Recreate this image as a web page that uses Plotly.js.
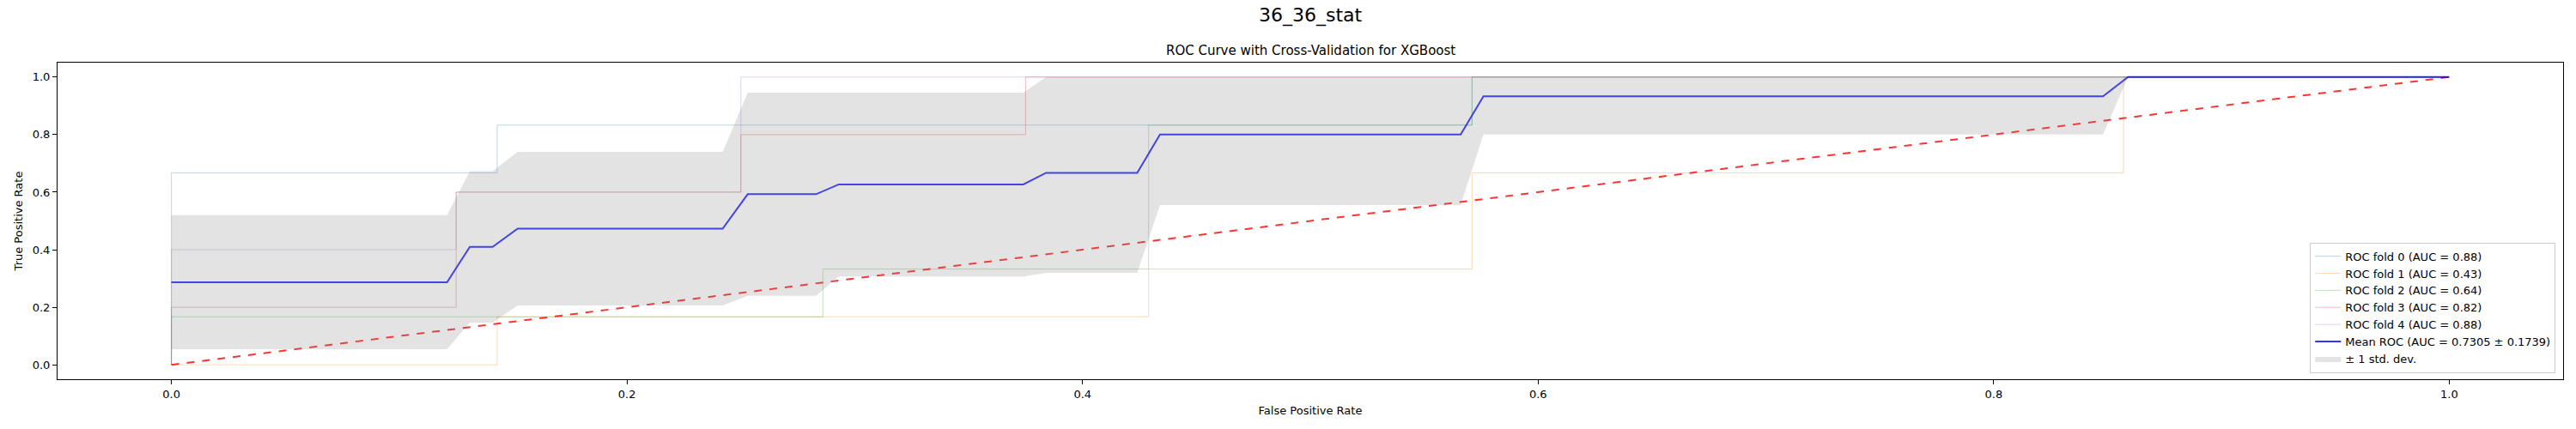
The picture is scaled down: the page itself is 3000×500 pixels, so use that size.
<!DOCTYPE html>
<html>
<head>
<meta charset="utf-8">
<script src="https://cdn.plot.ly/plotly-3.0.1.min.js"></script>
<style>body{margin:0}#myDiv{width:3000px;height:500px}</style>
</head>
<body>
<div id="myDiv"></div>
<script>
// fold ROC step points (fpr, tpr)
var fold0X = [0, 0, 0.143, 0.143, 0.571, 0.571, 1];
var fold0Y = [0, 0.667, 0.667, 0.833, 0.833, 1, 1];
var fold1X = [0, 0.143, 0.143, 0.429, 0.429, 0.571, 0.571, 0.857, 0.857, 1];
var fold1Y = [0, 0, 0.167, 0.167, 0.333, 0.333, 0.667, 0.667, 1, 1];
var fold2X = [0, 0, 0.286, 0.286, 0.429, 0.429, 0.571, 0.571, 1];
var fold2Y = [0, 0.167, 0.167, 0.333, 0.333, 0.833, 0.833, 1, 1];
var fold3X = [0, 0, 0.125, 0.125, 0.25, 0.25, 0.375, 0.375, 1];
var fold3Y = [0, 0.2, 0.2, 0.6, 0.6, 0.8, 0.8, 1, 1];
var fold4X = [0, 0, 0.125, 0.125, 0.25, 0.25, 1];
var fold4Y = [0, 0.4, 0.4, 0.6, 0.6, 1, 1];
var foldAuc = ['0.88', '0.43', '0.64', '0.82', '0.88'];

// mean ROC and std band
var meanX = [0, 0.121, 0.131, 0.141, 0.152, 0.242, 0.253, 0.283, 0.293, 0.374, 0.384, 0.424, 0.434, 0.566, 0.576, 0.848, 0.859, 1];
var meanY = [0.287, 0.287, 0.41, 0.41, 0.473, 0.473, 0.593, 0.593, 0.627, 0.627, 0.667, 0.667, 0.8, 0.8, 0.933, 0.933, 1, 1];
var upperY = [0.52, 0.52, 0.673, 0.673, 0.74, 0.74, 0.946, 0.946, 0.946, 0.946, 1, 1, 1, 1, 1, 1, 1, 1];
var lowerY = [0.054, 0.054, 0.147, 0.147, 0.206, 0.206, 0.24, 0.24, 0.307, 0.307, 0.32, 0.32, 0.555, 0.555, 0.8, 0.8, 1, 1];
var chanceX = [0, 1];
var chanceY = [0, 1];

var foldColors = ['rgba(31,119,180,0.3)', 'rgba(255,127,14,0.3)', 'rgba(44,160,44,0.3)', 'rgba(214,39,40,0.3)', 'rgba(148,103,189,0.3)'];
var foldXs = [fold0X, fold1X, fold2X, fold3X, fold4X];
var foldYs = [fold0Y, fold1Y, fold2Y, fold3Y, fold4Y];

var data = [];
for (var i = 0; i < 5; i++) {
  data.push({
    x: foldXs[i], y: foldYs[i], type: 'scatter', mode: 'lines',
    line: {color: foldColors[i], width: 1},
    name: 'ROC fold ' + i + ' (AUC = ' + foldAuc[i] + ')'
  });
}
data.push({x: chanceX, y: chanceY, type: 'scatter', mode: 'lines',
  line: {color: 'rgba(255,0,0,0.8)', width: 2, dash: 'dash'}, showlegend: false, hoverinfo: 'skip'});
data.push({x: meanX, y: meanY, type: 'scatter', mode: 'lines',
  line: {color: 'rgba(0,0,255,0.8)', width: 2}, name: 'Mean ROC (AUC = 0.7305 ± 0.1739)'});
data.push({x: meanX, y: lowerY, type: 'scatter', mode: 'lines',
  line: {width: 0, color: 'rgba(0,0,0,0)'}, showlegend: false, hoverinfo: 'skip'});
data.push({x: meanX, y: upperY, type: 'scatter', mode: 'lines', fill: 'tonexty',
  fillcolor: 'rgba(128,128,128,0.22)', line: {width: 0, color: 'rgba(0,0,0,0)'}, name: '± 1 std. dev.'});

var axisFont = {family: 'DejaVu Sans', size: 13, color: '#000'};
var layout = {
  width: 3000, height: 500,
  paper_bgcolor: '#fff', plot_bgcolor: '#fff',
  margin: {l: 67, r: 15, t: 73, b: 58},
  font: {family: 'DejaVu Sans', size: 13, color: '#000'},
  annotations: [
    {text: '36_36_stat', xref: 'paper', yref: 'paper', x: 0.5, y: 1, yshift: 40,
      showarrow: false, font: {family: 'DejaVu Sans', size: 22}, yanchor: 'bottom'},
    {text: 'ROC Curve with Cross-Validation for XGBoost', xref: 'paper', yref: 'paper', x: 0.5, y: 1, yshift: 3,
      showarrow: false, font: {family: 'DejaVu Sans', size: 15}, yanchor: 'bottom'}
  ],
  xaxis: {
    range: [-0.05, 1.05], tickvals: [0, 0.2, 0.4, 0.6, 0.8, 1], ticktext: ['0.0', '0.2', '0.4', '0.6', '0.8', '1.0'],
    showgrid: false, zeroline: false, showline: true, mirror: true, linecolor: '#000', linewidth: 1,
    ticks: 'outside', ticklen: 5, tickcolor: '#000', tickfont: axisFont,
    title: {text: 'False Positive Rate', font: axisFont, standoff: 8}
  },
  yaxis: {
    range: [-0.05, 1.05], tickvals: [0, 0.2, 0.4, 0.6, 0.8, 1], ticktext: ['0.0', '0.2', '0.4', '0.6', '0.8', '1.0'],
    showgrid: false, zeroline: false, showline: true, mirror: true, linecolor: '#000', linewidth: 1,
    ticks: 'outside', ticklen: 5, tickcolor: '#000', tickfont: axisFont,
    title: {text: 'True Positive Rate', font: axisFont, standoff: 8}
  },
  legend: {
    x: 0.997, y: 0.02, xanchor: 'right', yanchor: 'bottom', traceorder: 'normal',
    bgcolor: 'rgba(255,255,255,0.8)', bordercolor: '#ccc', borderwidth: 1,
    font: {family: 'DejaVu Sans', size: 13}, tracegroupgap: 0
  }
};

Plotly.newPlot('myDiv', data, layout, {displayModeBar: false});
</script>
</body>
</html>
